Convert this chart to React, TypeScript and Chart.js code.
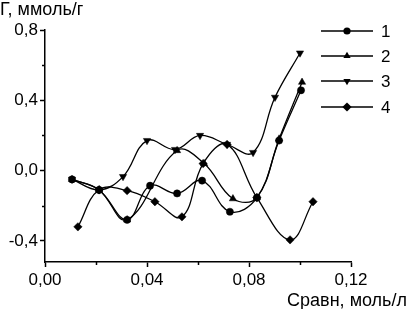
import React, { useEffect, useRef } from 'react';
import { Chart, registerables } from 'chart.js';

Chart.register(...registerables);

// ---- data ----
const seriesNames = ['1', '2', '3', '4'];

const s1X = [0.0106, 0.0212, 0.0322, 0.0412, 0.0518, 0.0616, 0.0725, 0.0831, 0.0918, 0.1004];
const s1Y = [-0.05, -0.11, -0.28, -0.086, -0.13, -0.057, -0.234, -0.154, 0.171, 0.457];

const s2X = [0.0106, 0.0212, 0.0322, 0.0518, 0.0624, 0.0737, 0.0831, 0.0918, 0.1008];
const s2Y = [-0.05, -0.11, -0.28, 0.114, 0.04, -0.16, -0.154, 0.18, 0.503];

const s3X = [0.0106, 0.0212, 0.0306, 0.04, 0.051, 0.0608, 0.0714, 0.0816, 0.0902, 0.1];
const s3Y = [-0.05, -0.11, -0.034, 0.171, 0.12, 0.2, 0.149, 0.103, 0.417, 0.669];

const s4X = [0.0129, 0.0212, 0.0322, 0.0431, 0.0537, 0.062, 0.0714, 0.0831, 0.0961, 0.1051];
const s4Y = [-0.32, -0.109, -0.114, -0.177, -0.263, 0.04, 0.149, -0.154, -0.394, -0.177];

const xMajorTicks = [0, 0.04, 0.08, 0.12];
const xMinorTicks = [0.02, 0.06, 0.1];
const yMajorTicks = [-0.4, 0, 0.4, 0.8];
const yMinorTicks = [-0.2, 0.2, 0.6];

const xMin = 0;
const xMax = 0.12;
const yMin = -0.52;
const yMax = 0.8;

const yTitle = 'Г, ммоль/г';
const xTitle = 'Сравн, моль/л';

const FONT = '"Liberation Sans", Arial, sans-serif';

const zip = (xs: number[], ys: number[]) => xs.map((x, i) => ({ x, y: ys[i] }));

const markerStyles: { style: string; rot: number; r: number }[] = [
  { style: 'circle', rot: 0, r: 3.6 },
  { style: 'triangle', rot: 0, r: 4.2 },
  { style: 'triangle', rot: 180, r: 4.2 },
  { style: 'rectRot', rot: 0, r: 4.2 },
];

function drawMarker(ctx: CanvasRenderingContext2D, kind: number, x: number, y: number) {
  const m = markerStyles[kind];
  const r = m.r;
  ctx.beginPath();
  if (m.style === 'circle') {
    ctx.arc(x, y, r, 0, Math.PI * 2);
  } else if (m.style === 'triangle') {
    const s = m.rot === 180 ? -1 : 1;
    const h = r * 1.5;
    ctx.moveTo(x, y - s * r);
    ctx.lineTo(x + r * 0.866, y + s * r * 0.5);
    ctx.lineTo(x - r * 0.866, y + s * r * 0.5);
    void h;
  } else {
    ctx.moveTo(x, y - r * 1.1);
    ctx.lineTo(x + r * 1.1, y);
    ctx.lineTo(x, y + r * 1.1);
    ctx.lineTo(x - r * 1.1, y);
  }
  ctx.closePath();
  ctx.fill();
}

const legendYs = [31, 56, 81, 107];

const overlayPlugin = {
  id: 'overlay',
  afterDraw(chart: any) {
    const ctx: CanvasRenderingContext2D = chart.ctx;
    const xs = chart.scales.x;
    const ys = chart.scales.y;
    ctx.save();
    ctx.fillStyle = '#000';
    ctx.strokeStyle = '#000';
    // minor ticks
    ctx.lineWidth = 1.5;
    const bottom = chart.chartArea.bottom;
    const left = chart.chartArea.left;
    xMinorTicks.forEach((v) => {
      const px = Math.round(xs.getPixelForValue(v)) + 0.5;
      ctx.beginPath();
      ctx.moveTo(px, bottom);
      ctx.lineTo(px, bottom + 3);
      ctx.stroke();
    });
    yMinorTicks.forEach((v) => {
      const py = Math.round(ys.getPixelForValue(v)) + 0.5;
      ctx.beginPath();
      ctx.moveTo(left, py);
      ctx.lineTo(left - 3, py);
      ctx.stroke();
    });
    // titles
    ctx.font = `18px ${FONT}`;
    ctx.textBaseline = 'alphabetic';
    ctx.textAlign = 'left';
    ctx.fillText(yTitle, 0, 15);
    ctx.textAlign = 'right';
    ctx.fillText(xTitle, 407, 306);
    // legend
    ctx.textAlign = 'left';
    ctx.textBaseline = 'middle';
    ctx.font = `17px ${FONT}`;
    seriesNames.forEach((name, i) => {
      const y = legendYs[i];
      ctx.lineWidth = 1.4;
      ctx.beginPath();
      ctx.moveTo(321, y);
      ctx.lineTo(373, y);
      ctx.stroke();
      drawMarker(ctx, i, 347, y);
      ctx.fillText(name, 381, y + 1);
    });
    ctx.restore();
  },
};

const fmt = (v: number, d: number) => v.toFixed(d).replace('.', ',');
const isIn = (arr: number[], v: number) => arr.some((a) => Math.abs(a - v) < 1e-9);

export default function App() {
  const ref = useRef<HTMLCanvasElement | null>(null);

  useEffect(() => {
    if (!ref.current) return;
    const seriesData = [zip(s1X, s1Y), zip(s2X, s2Y), zip(s3X, s3Y), zip(s4X, s4Y)];
    const chart = new Chart(ref.current, {
      type: 'line',
      data: {
        datasets: seriesData.map((d, i) => ({
          label: seriesNames[i],
          data: d,
          borderColor: '#000',
          backgroundColor: '#000',
          borderWidth: 1.3,
          tension: 0.4,
          pointStyle: markerStyles[i].style as any,
          pointRotation: markerStyles[i].rot,
          pointRadius: markerStyles[i].r,
          pointBackgroundColor: '#000',
          pointBorderColor: '#000',
          pointBorderWidth: 0.5,
          fill: false,
        })),
      },
      options: {
        responsive: false,
        animation: false,
        events: [],
        layout: { padding: { top: 30, right: 57, left: 0, bottom: 0 } },
        plugins: {
          legend: { display: false },
          tooltip: { enabled: false },
        },
        scales: {
          x: {
            type: 'linear',
            min: xMin,
            max: xMax,
            afterFit: (scale: any) => {
              scale.height = 47;
            },
            afterBuildTicks: (scale: any) => {
              scale.ticks = xMajorTicks.map((v) => ({ value: v }));
            },
            border: { display: true, color: '#000', width: 1.5 },
            grid: {
              display: true,
              drawOnChartArea: false,
              drawTicks: true,
              tickLength: 5,
              tickColor: '#000',
              tickWidth: 1.5,
            },
            ticks: {
              color: '#000',
              padding: 3,
              maxRotation: 0,
              autoSkip: false,
              font: { family: FONT, size: 17 },
              callback: (v: any) => (isIn(xMajorTicks, Number(v)) ? fmt(Number(v), 2) : ''),
            },
          },
          y: {
            type: 'linear',
            min: yMin,
            max: yMax,
            afterFit: (scale: any) => {
              scale.width = 45;
            },
            afterBuildTicks: (scale: any) => {
              scale.ticks = yMajorTicks.map((v) => ({ value: v }));
            },
            border: { display: true, color: '#000', width: 1.5 },
            grid: {
              display: true,
              drawOnChartArea: false,
              drawTicks: true,
              tickLength: 5,
              tickColor: '#000',
              tickWidth: 1.5,
            },
            ticks: {
              color: '#000',
              padding: 2,
              autoSkip: false,
              font: { family: FONT, size: 17 },
              callback: (v: any) => (isIn(yMajorTicks, Number(v)) ? fmt(Number(v), 1) : ''),
            },
          },
        },
      },
      plugins: [overlayPlugin],
    });
    return () => chart.destroy();
  }, []);

  return (
    <div style={{ position: 'absolute', left: 0, top: 0, width: 408, height: 309, background: '#fff' }}>
      <canvas ref={ref} width={408} height={309} style={{ display: 'block' }} />
    </div>
  );
}
